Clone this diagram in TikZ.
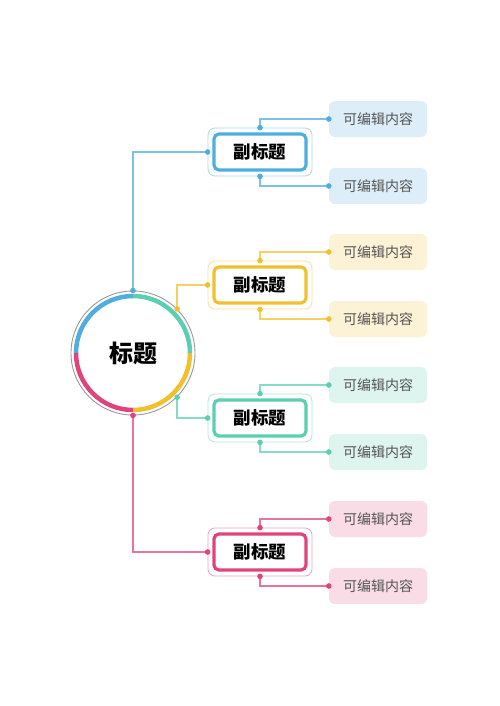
\documentclass[tikz,border=0pt]{standalone}
\usepackage{fontspec}
\newfontfamily\cjk{Noto Sans CJK SC}

\definecolor{cblue}{HTML}{4FAEDE}
\definecolor{cyellow}{HTML}{F1C02E}
\definecolor{cteal}{HTML}{5CCFB2}
\definecolor{cpink}{HTML}{DF457B}
\definecolor{cblueL}{HTML}{DDEEF9}
\definecolor{cyellowL}{HTML}{FCF2D6}
\definecolor{ctealL}{HTML}{DDF5EE}
\definecolor{cpinkL}{HTML}{FADCE6}
\definecolor{txtgray}{HTML}{555555}

\begin{document}
\begin{tikzpicture}[
    x=1pt, y=-1pt,
    every node/.style={align=center},
    halo/.style={rounded corners=7pt, draw=#1!50, line width=0.8pt,
                minimum width=104pt, minimum height=48pt},
    subbox/.style={rounded corners=5pt, draw=#1, line width=3.2pt, fill=white,
                minimum width=92pt, minimum height=36pt,
                font=\cjk\bfseries\fontsize{17.5}{20}\selectfont},
    leaf/.style={rounded corners=6pt, fill=#1, minimum width=98pt, minimum height=36pt,
                text=txtgray, font=\cjk\fontsize{14}{16}\selectfont},
    conn/.style={#1!75, line width=1.4pt},
    ring/.style={#1, line width=4.5pt},
  ]
  \useasboundingbox (0,0) rectangle (500,706);

  % === Central circle ===
  \node[circle, draw=gray!80, line width=0.9pt, minimum size=124pt,
        font=\cjk\bfseries\fontsize{24}{28}\selectfont] (hub) at (133,353) {标题};
  \draw[ring=cblue]   ([shift={(180:57)}]hub.center) arc (180:270:57);
  \draw[ring=cteal]   ([shift={(270:57)}]hub.center) arc (270:360:57);
  \draw[ring=cyellow] ([shift={(0:57)}]hub.center)   arc (0:90:57);
  \draw[ring=cpink]   ([shift={(90:57)}]hub.center)  arc (90:180:57);

  % === Sub-title boxes ===
  \node[halo=cblue]   (sub1) at (260,152) {};
  \node[halo=cyellow] (sub2) at (260,285) {};
  \node[halo=cteal]   (sub3) at (260,418) {};
  \node[halo=cpink]   (sub4) at (260,552) {};
  \node[subbox=cblue]   (sub1in) at (sub1) {副标题};
  \node[subbox=cyellow] (sub2in) at (sub2) {副标题};
  \node[subbox=cteal]   (sub3in) at (sub3) {副标题};
  \node[subbox=cpink]   (sub4in) at (sub4) {副标题};

  % === Leaf boxes ===
  \node[leaf=cblueL]   (leaf1a) at (378,119) {可编辑内容};
  \node[leaf=cblueL]   (leaf1b) at (378,186) {可编辑内容};
  \node[leaf=cyellowL] (leaf2a) at (378,252) {可编辑内容};
  \node[leaf=cyellowL] (leaf2b) at (378,319) {可编辑内容};
  \node[leaf=ctealL]   (leaf3a) at (378,385) {可编辑内容};
  \node[leaf=ctealL]   (leaf3b) at (378,452) {可编辑内容};
  \node[leaf=cpinkL]   (leaf4a) at (378,519) {可编辑内容};
  \node[leaf=cpinkL]   (leaf4b) at (378,586) {可编辑内容};

  % === Hub to sub-titles ===
  \draw[conn=cblue]   (hub.90)  |- (sub1.west);
  \draw[conn=cyellow] (hub.45)  |- (sub2.west);
  \draw[conn=cteal]   (hub.-45) |- (sub3.west);
  \draw[conn=cpink]   (hub.-90) |- (sub4.west);

  % === Sub-titles to leaves ===
  \draw[conn=cblue]   (sub1.north) |- (leaf1a.west);
  \draw[conn=cblue]   (sub1.south) |- (leaf1b.west);
  \draw[conn=cyellow] (sub2.north) |- (leaf2a.west);
  \draw[conn=cyellow] (sub2.south) |- (leaf2b.west);
  \draw[conn=cteal]   (sub3.north) |- (leaf3a.west);
  \draw[conn=cteal]   (sub3.south) |- (leaf3b.west);
  \draw[conn=cpink]   (sub4.north) |- (leaf4a.west);
  \draw[conn=cpink]   (sub4.south) |- (leaf4b.west);

  % === End dots ===
  \fill[cblue]   (hub.90) circle (2.8pt) (sub1.west) circle (2.8pt)
                 (sub1.north) circle (2.8pt) (sub1.south) circle (2.8pt)
                 (leaf1a.west) circle (2.8pt) (leaf1b.west) circle (2.8pt);
  \fill[cyellow] (hub.45) circle (2.8pt) (sub2.west) circle (2.8pt)
                 (sub2.north) circle (2.8pt) (sub2.south) circle (2.8pt)
                 (leaf2a.west) circle (2.8pt) (leaf2b.west) circle (2.8pt);
  \fill[cteal]   (hub.-45) circle (2.8pt) (sub3.west) circle (2.8pt)
                 (sub3.north) circle (2.8pt) (sub3.south) circle (2.8pt)
                 (leaf3a.west) circle (2.8pt) (leaf3b.west) circle (2.8pt);
  \fill[cpink]   (hub.-90) circle (2.8pt) (sub4.west) circle (2.8pt)
                 (sub4.north) circle (2.8pt) (sub4.south) circle (2.8pt)
                 (leaf4a.west) circle (2.8pt) (leaf4b.west) circle (2.8pt);

  \end{tikzpicture}
\end{document}
